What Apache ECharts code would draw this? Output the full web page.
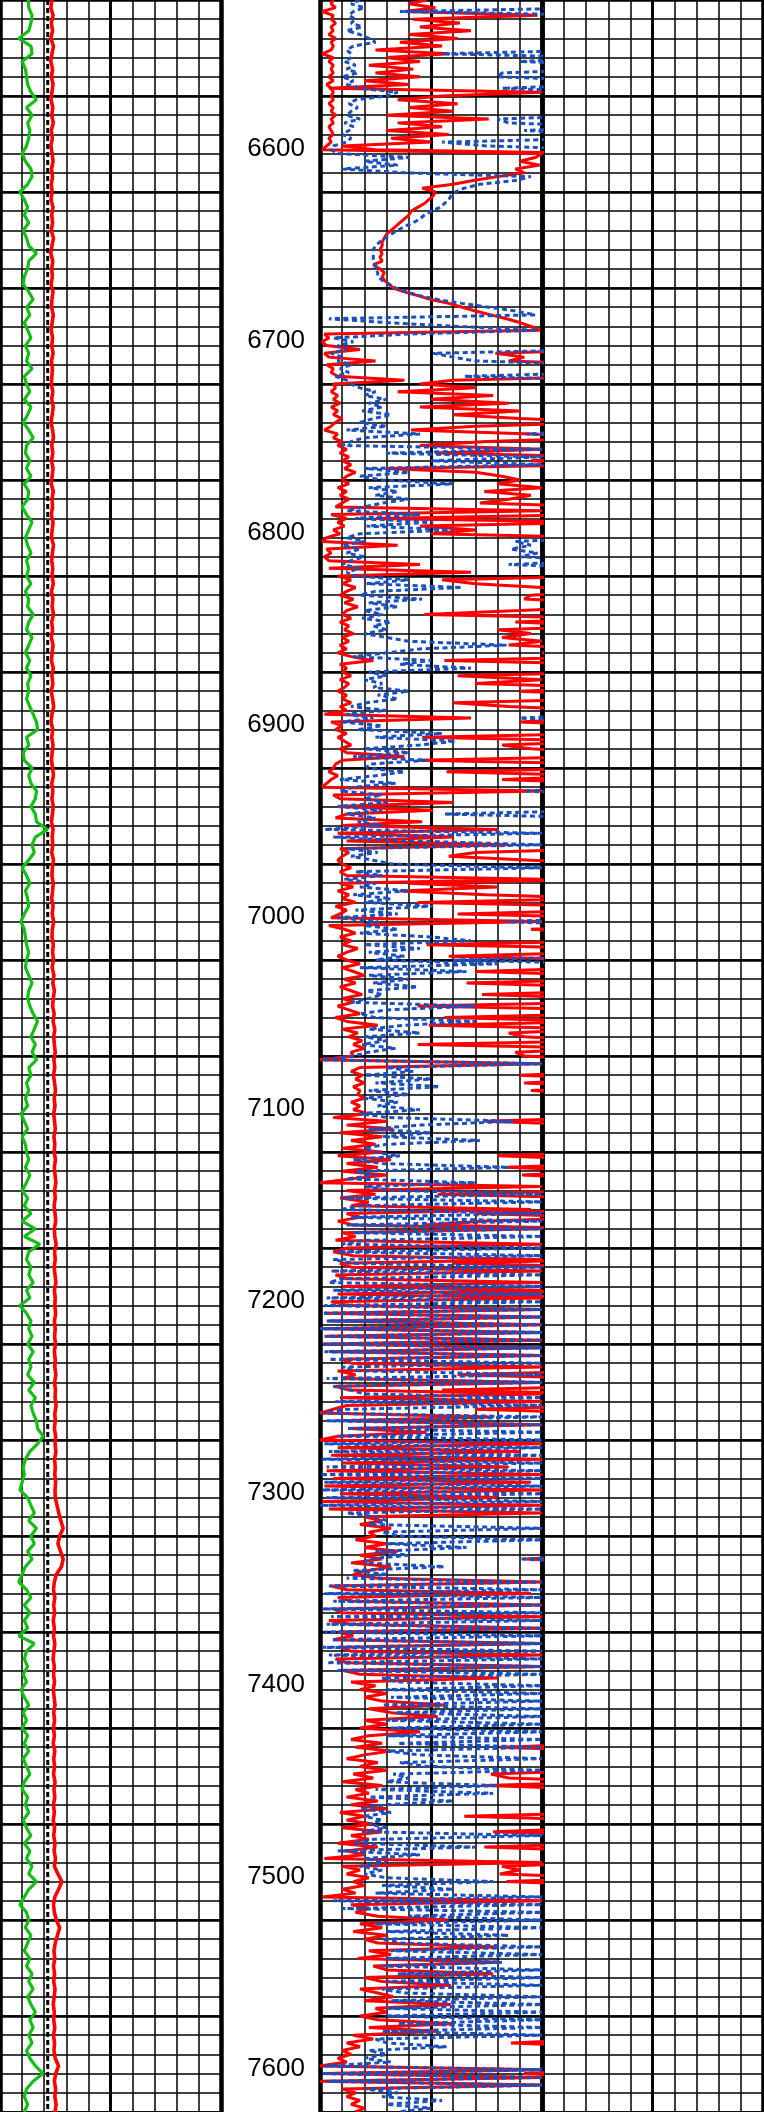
<!DOCTYPE html>
<html><head><meta charset="utf-8">
<script src="https://cdn.jsdelivr.net/npm/echarts@6/dist/echarts.min.js"></script>
<style>html,body{margin:0;padding:0;background:#fff}#c{width:764px;height:2112px}</style>
</head><body><div id="c"></div>
<script>
// ---------------- DATA ----------------
const OFF = 130;               // reading beyond the right edge of the scale (clipped)
const DEPTH_MIN = 6520, DEPTH_MAX = 7620;
const depthLabels = [6600, 6700, 6800, 6900, 7000, 7100, 7200, 7300, 7400, 7500, 7600];
const MID_STEP = 2;            // ft between samples, middle track curves (rows = 50 ft)
const LEFT_STEP = 4;           // ft between samples, left track curves (rows = 100 ft)
const leftCutoff = [21.6, 21.6]; // black dashed reference line (top, bottom)

const midRed1Rows = [
[6,5,7,1,6,5,7,5,6,4,7,5,6,5,1,6,4,6,5,6,4,6,3,5,6],
[5,6,4,6,5,7,5,6,4,5,6,4,5,3,1,100,97,90,99,88,92,80,69,60,46],
[52,51,49,47,44,41,40,38,36,34,32,30,29,28,28,27,28,27,28,24,27,29,28,29,31],
[33,38,44,50,58,64,70,77,84,90,95,99,2,4,1,3,18,2,4,25,3,6,5,8,38],
[6,7,5,8,6,9,5,8,6,10,7,5,2,8,6,10,8,12,9,13,10,14,11,16,12],
[10,13,8,12,9,13,10,7,100,5,12,8,11,6,9,3,1,35,3,5,2,4,45,4,68],
[8,14,10,16,12,9,15,11,17,12,10,14,9,13,11,15,10,13,9,12,8,14,24,9,12],
[10,14,9,13,11,8,12,10,14,9,12,2,68,5,10,7,12,8,11,14,9,12,38,10,7],
[6,4,8,5,3,1,100,6,9,60,8,51,12,7,46,10,80,8,60,12,85,9,13,10,8],
[10,14,9,12,100,9,15,8,13,10,16,7,12,9,5,100,4,11,16,9,14,10,17,12,8],
[12,18,10,15,20,11,16,9,14,19,10,15,8,13,18,7,12,26,10,17,13,19,15,20,14],
[15,0,100,18,14,19,16,20,15,18,17,20,14,18,15,22,6,30,12,33,9,28,14,25,10],
[28,8,32,12,26,10,30,14,0,100,12,25,9,22,14,95,12,18,8,15,100,10,16,7,100],
[12,6,15,100,9,14,100,7,12,100,10,100,8,100,5,14,100,2,100,4,100,1,100,3,100],
[2,100,5,100,10,14,100,8,16,10,100,7,13,100,9,100,12,6,0,78,10,100,14,48,8],
[0,100,8,90,5,100,10,85,3,100,6,95,2,100,9,80,1,100,4,100,20,28,18,32,22],
[25,16,30,20,35,18,28,14,32,22,15,26,100,5,12,95,8,15,100,6,10,100,4,14,100],
[8,15,6,100,9,14,100,7,12,100,10,18,80,14,25,18,30,20,28,56,22,32,53,20,30],
[18,45,22,14,28,16,32,20,12,26,18,30,15,24,10,28,16,22,12,26,14,30,9,20,12],
[24,10,28,14,22,8,26,12,20,2,100,10,18,12,22,15,20,10,16,1,100,14,22,16,26],
[58,18,28,15,30,20,26,80,22,32,17,81,24,30,78,20,28,59,18,26,33,20,59,25,30],
[18,26,60,22,53,15,24,12,18,10,14,8,12,0,100,2,100,0,100,10,16,12,18,14,20],
[16]];

const midRed2Rows = [
[48,40,52,38,98,42,63,45,68,40,62,36,55,25,58,30,45,22,42,25,45,20,40,4,100],
[55,35,62,40,60,30,76,35,55,30,58,32,50,10,25,OFF,OFF,OFF,OFF,OFF,OFF,OFF,OFF,OFF,OFF],
[OFF,OFF,OFF,OFF,OFF,OFF,OFF,OFF,OFF,OFF,OFF,OFF,OFF,OFF,OFF,OFF,OFF,OFF,OFF,OFF,OFF,OFF,OFF,OFF,OFF],
[OFF,OFF,OFF,OFF,OFF,OFF,OFF,OFF,OFF,OFF,OFF,OFF,OFF,OFF,OFF,OFF,OFF,79,92,85,OFF,OFF,OFF,OFF,60],
[45,70,35,78,50,85,45,90,60,90,OFF,70,41,95,OFF,75,45,100,52,OFF,95,OFF,30,70,82],
[90,80,100,74,95,85,72,OFF,OFF,OFF,25,OFF,45,70,50,OFF,OFF,OFF,OFF,OFF,OFF,OFF,OFF,OFF,OFF],
[OFF,55,70,100,OFF,95,92,OFF,OFF,90,47,OFF,88,OFF,80,95,82,100,85,OFF,100,OFF,56,OFF,OFF],
[OFF,62,100,70,OFF,90,OFF,OFF,60,85,OFF,OFF,OFF,90,OFF,OFF,OFF,46,OFF,82,95,OFF,OFF,44,OFF],
[OFF,57,OFF,82,OFF,OFF,OFF,OFF,OFF,OFF,OFF,OFF,OFF,OFF,OFF,OFF,OFF,OFF,OFF,OFF,OFF,OFF,70,58,95],
[OFF,OFF,OFF,OFF,OFF,40,80,36,75,OFF,44,OFF,OFF,62,OFF,OFF,OFF,95,OFF,OFF,OFF,48,OFF,OFF,58],
[OFF,OFF,OFF,70,OFF,OFF,66,OFF,OFF,73,OFF,OFF,44,OFF,OFF,56,OFF,49,OFF,85,92,OFF,44,OFF,88],
[92,OFF,OFF,OFF,OFF,90,OFF,92,OFF,95,OFF,OFF,OFF,OFF,OFF,OFF,OFF,74,OFF,OFF,OFF,OFF,OFF,OFF,OFF],
[OFF,80,OFF,OFF,84,OFF,91,OFF,OFF,OFF,OFF,53,OFF,OFF,OFF,OFF,70,OFF,75,47,OFF,OFF,OFF,OFF,OFF],
[OFF,OFF,OFF,OFF,60,OFF,OFF,OFF,OFF,OFF,OFF,OFF,55,OFF,OFF,OFF,OFF,OFF,OFF,OFF,OFF,OFF,OFF,OFF,OFF],
[OFF,OFF,OFF,OFF,OFF,OFF,OFF,OFF,62,OFF,OFF,OFF,55,OFF,OFF,OFF,OFF,70,OFF,OFF,OFF,OFF,OFF,OFF,OFF],
[OFF,OFF,OFF,OFF,OFF,OFF,OFF,OFF,OFF,OFF,OFF,OFF,OFF,OFF,OFF,OFF,OFF,OFF,OFF,OFF,OFF,OFF,OFF,OFF,OFF],
[OFF,OFF,OFF,OFF,OFF,OFF,93,OFF,OFF,OFF,OFF,OFF,OFF,OFF,OFF,OFF,OFF,OFF,OFF,OFF,OFF,OFF,OFF,OFF,OFF],
[OFF,OFF,OFF,OFF,OFF,OFF,OFF,OFF,OFF,OFF,OFF,OFF,OFF,OFF,OFF,OFF,OFF,OFF,OFF,OFF,OFF,OFF,OFF,OFF,OFF],
[OFF,OFF,OFF,OFF,OFF,81,OFF,OFF,OFF,OFF,OFF,OFF,77,85,OFF,75,OFF,OFF,OFF,OFF,OFF,OFF,OFF,65,OFF],
[OFF,OFF,78,OFF,OFF,OFF,74,OFF,OFF,OFF,OFF,82,90,81,OFF,84,OFF,OFF,OFF,OFF,OFF,OFF,OFF,OFF,OFF],
[OFF,OFF,OFF,OFF,OFF,OFF,OFF,OFF,OFF,OFF,OFF,OFF,OFF,OFF,OFF,OFF,OFF,OFF,OFF,OFF,OFF,OFF,OFF,OFF,OFF],
[OFF,OFF,OFF,OFF,OFF,OFF,OFF,86,OFF,OFF,OFF,OFF,OFF,OFF,OFF,92,OFF,OFF,OFF,OFF,OFF,OFF,OFF,OFF,OFF],
[OFF]];

const midBlue1Rows = [
[18,14,20,15,13,16,14,19,12,18,22,25,15,12,14,14,11,16,12,17,10,15,12,18,35],
[30,16,13,17,14,12,18,11,15,13,10,14,12,6,5,8,40,20,35,10,38,95,88,72,65],
[61,59,58,56,54,50,47,45,42,38,35,32,29,27,25,24,24,24,24,25,25,26,26,28,31],
[34,39,45,53,64,76,88,97,4,30,62,98,40,6,15,8,12,5,10,8,14,9,13,7,12],
[14,18,25,20,30,22,28,19,32,24,18,30,12,45,20,14,10,100,30,100,50,100,20,40,18],
[28,60,22,35,25,40,28,20,12,45,16,51,21,60,18,12,20,10,18,12,20,14,10,18,12],
[16,40,21,64,25,18,46,22,35,20,28,19,32,24,30,20,30,40,84,45,30,15,50,36,68],
[22,30,20,28,24,40,26,35,21,14,30,12,24,10,28,17,55,25,61,45,20,40,15,48,22],
[21,38,25,9,34,15,9,28,20,30,8,28,12,25,17,28,2,100,6,40,100,12,26,14,24],
[32,100,16,28,11,25,18,40,15,32,20,51,16,35,8,26,20,35,18,50,68,20,45,22,38],
[25,80,18,66,22,40,24,44,21,28,22,14,70,30,18,25,70,38,22,45,20,30,19,34,22],
[15,1,100,30,42,20,50,25,54,22,40,20,35,26,45,18,30,87,45,22,50,28,72,30,20],
[24,36,15,28,85,16,25,12,70,20,33,100,10,100,18,9,100,14,100,12,100,15,100,20,10],
[100,8,100,6,15,100,5,100,10,4,100,6,100,3,100,2,100,1,100,3,100,0,100,2,100],
[1,100,2,100,4,100,10,18,100,3,100,6,14,20,100,7,100,12,1,100,3,100,12,100,8],
[100,2,100,4,100,1,100,3,100,0,100,2,100,1,100,3,100,0,100,12,25,30,22,100,28],
[35,100,30,66,25,40,22,20,56,15,30,12,100,4,100,2,100,6,100,1,100,5,100,3,100],
[2,100,5,100,1,100,4,100,3,100,8,100,28,35,100,30,100,32,100,28,100,34,100,30,100],
[32,100,30,100,35,100,30,45,100,36,48,100,33,40,30,80,25,78,22,60,30,18,32,20,28],
[22,30,19,100,24,15,70,8,45,20,30,18,28,20,30,78,28,60,25,100,6,100,10,100,40],
[100,25,100,30,85,28,36,100,32,100,30,82,28,100,35,100,30,100,28,38,100,32,100,30,100],
[30,100,35,100,28,100,25,30,57,22,30,20,32,2,100,1,100,3,100,20,35,28,55,30,50],
[35]];

const midBlue2Rows = [
[OFF,OFF,OFF,36,OFF,OFF,OFF,OFF,OFF,OFF,OFF,OFF,OFF,OFF,55,OFF,90,OFF,OFF,82,80,OFF,OFF,82,OFF],
[OFF,OFF,OFF,OFF,OFF,OFF,80,85,OFF,92,OFF,OFF,55,75,OFF,OFF,OFF,OFF,OFF,OFF,OFF,OFF,OFF,OFF,OFF],
[OFF,OFF,OFF,OFF,OFF,OFF,OFF,OFF,OFF,OFF,OFF,OFF,OFF,OFF,OFF,OFF,OFF,OFF,OFF,OFF,OFF,OFF,OFF,OFF,OFF],
[OFF,OFF,OFF,OFF,OFF,OFF,OFF,OFF,OFF,OFF,OFF,OFF,OFF,OFF,OFF,OFF,OFF,51,60,70,OFF,OFF,OFF,65,OFF],
[OFF,OFF,OFF,OFF,OFF,OFF,OFF,OFF,OFF,OFF,OFF,OFF,OFF,93,OFF,OFF,OFF,OFF,OFF,OFF,OFF,OFF,OFF,OFF,OFF],
[OFF,OFF,OFF,OFF,OFF,OFF,OFF,OFF,OFF,OFF,OFF,OFF,OFF,OFF,OFF,OFF,88,95,86,98,90,OFF,85,OFF,OFF],
[OFF,OFF,OFF,OFF,OFF,OFF,OFF,OFF,OFF,OFF,OFF,OFF,OFF,OFF,OFF,OFF,OFF,OFF,OFF,OFF,OFF,OFF,OFF,OFF,OFF],
[OFF,OFF,OFF,OFF,OFF,OFF,OFF,OFF,OFF,OFF,OFF,OFF,90,OFF,OFF,OFF,OFF,OFF,OFF,OFF,OFF,OFF,OFF,OFF,OFF],
[OFF,OFF,OFF,OFF,OFF,OFF,92,OFF,OFF,OFF,OFF,OFF,56,OFF,OFF,OFF,OFF,OFF,OFF,OFF,OFF,OFF,OFF,OFF,OFF],
[OFF,OFF,OFF,OFF,OFF,OFF,OFF,OFF,OFF,OFF,OFF,OFF,OFF,OFF,OFF,83,OFF,OFF,OFF,OFF,OFF,OFF,OFF,OFF,OFF],
[60,OFF,OFF,OFF,OFF,OFF,OFF,OFF,OFF,OFF,OFF,OFF,OFF,OFF,OFF,OFF,OFF,OFF,OFF,OFF,OFF,OFF,OFF,OFF,OFF],
[OFF,OFF,OFF,OFF,OFF,OFF,OFF,OFF,OFF,OFF,OFF,OFF,OFF,OFF,OFF,OFF,OFF,OFF,OFF,OFF,OFF,OFF,OFF,OFF,OFF],
[OFF,OFF,OFF,OFF,OFF,OFF,OFF,OFF,OFF,OFF,OFF,OFF,OFF,OFF,OFF,OFF,OFF,OFF,OFF,OFF,OFF,OFF,OFF,OFF,OFF],
[OFF,OFF,OFF,OFF,OFF,OFF,OFF,OFF,OFF,OFF,OFF,OFF,OFF,OFF,OFF,OFF,OFF,OFF,OFF,OFF,OFF,OFF,OFF,OFF,OFF],
[OFF,OFF,OFF,OFF,OFF,OFF,OFF,OFF,OFF,OFF,OFF,OFF,OFF,OFF,OFF,OFF,OFF,OFF,OFF,OFF,OFF,OFF,OFF,OFF,OFF],
[OFF,OFF,OFF,OFF,OFF,OFF,OFF,OFF,OFF,OFF,OFF,OFF,OFF,OFF,OFF,OFF,OFF,OFF,OFF,OFF,OFF,OFF,OFF,OFF,OFF],
[OFF,OFF,OFF,OFF,OFF,OFF,90,OFF,OFF,OFF,OFF,OFF,OFF,OFF,OFF,OFF,OFF,OFF,OFF,OFF,OFF,OFF,OFF,OFF,OFF],
[OFF,OFF,OFF,OFF,OFF,OFF,OFF,OFF,OFF,OFF,OFF,OFF,OFF,OFF,OFF,OFF,OFF,OFF,OFF,OFF,OFF,OFF,OFF,OFF,OFF],
[OFF,OFF,OFF,OFF,OFF,OFF,OFF,OFF,OFF,OFF,OFF,OFF,OFF,OFF,OFF,OFF,OFF,OFF,OFF,OFF,OFF,OFF,OFF,OFF,OFF],
[OFF,OFF,OFF,OFF,OFF,OFF,OFF,OFF,OFF,OFF,OFF,OFF,OFF,OFF,OFF,OFF,OFF,OFF,OFF,OFF,OFF,OFF,OFF,OFF,OFF],
[OFF,OFF,OFF,OFF,OFF,OFF,OFF,OFF,OFF,OFF,OFF,OFF,OFF,OFF,OFF,OFF,OFF,OFF,OFF,OFF,OFF,OFF,OFF,OFF,OFF],
[OFF,OFF,OFF,OFF,OFF,OFF,OFF,OFF,OFF,OFF,OFF,OFF,OFF,OFF,OFF,OFF,OFF,OFF,OFF,OFF,OFF,OFF,OFF,OFF,OFF],
[OFF]];

const leftGreenRows = [
[12.8,13,14.5,14,13,8.5,14,14.5,10,11.5,12,12.5,14,16.5,12,14.5,12.5,13.5,13,12,10,11.5,14,14.5,12.5],
[9,11,12.5,11,13,10.5,12,13,16.5,13,12.5,11,10.5,13,15,12,13.5,11,12.5,14,11.5,13,12,14.5,11],
[12,13.5,11,14,12.5,10.5,13,15,12,11.5,13.5,12,14,11,13,12.5,10,12,14.5,13,11.5,12.5,14,12,13],
[12,14,11.5,13,12.5,15,13,12,14.5,13,11.5,13.5,12,14,12.5,13,12,13.5,15,16.5,17,12,13,10.5,11],
[14.5,13,14,16.5,16,14,16,16.5,21.5,16,14.5,15.5,13,10,12,13.5,11.5,12.5,13,11,9.5,11,11.5,12,13],
[12,11.5,13,14.5,13,12.5,13.5,15,17,15.5,14,16,14.5,16.5,13,14,12,13,11.5,12.5,9.5,11,12.5,10,11.5],
[12,13,11.5,13.5,12,10,12.5,11,14,10,16,11,18,13,12,14,13,15,12,13.5,9,12,14,13,14.5],
[12.5,15,13,14,12.5,15.5,13,16,14,15,16.5,17,19.5,17,13.5,11.5,10.5,11,10,9,12.5,14,15.5,13,16.5],
[14,15.5,12.5,14.5,11.5,10,8.5,12,14,11,13.5,11,12.5,8.5,15.5,12,11,12.5,10.5,12,9.5,11,13,10.5,12],
[10,12.5,11,13,10.5,12,13.5,11,10,12.5,11.5,13,10.5,12,14,11,13.5,12,14.5,13,16.5,13,11,9,12],
[13,11.5,14,12.5,11,13.5,12,14.5,13,15,12.5,14,16,13.5,15,13,14.5,12,13.5,16,19.5,15,12,11,12.5],
[11]];

const leftRedRows = [
[23.5,23,24,23.2,23.8,23,24.2,23.5,23,23.8,23.3,24,23.5,23.1,23.9,23.4,24.1,23.2,23.7,23,23.6,24,23.3,23.8,23.2],
[23.6,23.1,24,23.4,23.8,23.2,24.2,23.5,23,23.9,23.4,23.7,23.1,24,23.5,23.3,24.1,23.6,23.2,23.8,23.4,24,23.3,23.7,23.5],
[23.2,23.9,23.4,24.1,23.6,23.1,23.8,24.2,23.4,23.9,23.3,24,23.6,23.2,24.1,23.5,23.8,23.2,24,23.6,23.3,24.2,23.7,23.4,23.9],
[23.5,24.1,23.3,23.9,23.6,24.2,23.4,23.8,23.2,24,23.6,23.3,24.1,23.5,23.9,23.2,23.8,24.3,23.5,23.1,23.9,23.4,24,23.6,23.3],
[23.8,24.2,23.4,23.9,23.5,24.1,23.7,23.3,24,23.6,23.9,23.4,24.2,23.7,23.5,24.1,23.8,23.4,24,23.6,24.3,23.7,23.5,24.1,23.8],
[24.2,23.6,24.4,23.9,24.6,24.1,23.8,24.5,24,24.8,24.3,24.6,25,24.4,24.8,24.2,24.7,25.1,24.5,24.9,24.3,24.7,25,24.4,24.8],
[24.5,25.1,24.6,24.9,25.3,24.7,25,24.5,24.9,25.2,24.6,24.8,25.4,24.7,25,24.5,24.9,25.3,24.6,25,24.8,25.2,24.6,25,24.7],
[25.1,24.6,25,24.8,25.3,24.7,25.1,24.9,25.4,24.8,25,24.6,25.2,24.9,25.3,24.7,25,24.8,25.2,24.9,25,25.8,26.6,27.5,28.6],
[27,26.2,27.4,28.6,27.8,25.5,24.6,24.2,24.8,24.3,24.7,24.1,24.6,24.2,24.8,24.4,24,24.6,24.2,24.7,24.1,24.5,24.9,24.3,24.7],
[24.2,24.6,24.1,24.8,24.3,24.7,24.2,24.9,24.4,24.8,24.2,24.6,24.1,24.7,24.3,24.9,24.5,25.1,24.6,26.2,28,26.5,24.8,24.2,24.6],
[25.5,27,26,25,24.4,24.8,24.2,24.7,24.3,24.9,24.5,24.1,24.6,24.3,24.8,24.2,24.7,24.4,25,26.5,25.2,24.6,25.2,24.8,25.4],
[24.9]];

// ---------------- BUILD ----------------
function flatRows(name, rows, count) {
  rows.slice(0, -1).forEach((r, i) => {
    if (r.length !== 25) throw new Error(name + ' row ' + i + ' has ' + r.length + ' values');
  });
  const v = rows.flat();
  if (v.length !== count) throw new Error(name + ' total ' + v.length);
  return v;
}
const nMid = (DEPTH_MAX - DEPTH_MIN) / MID_STEP + 1;
const nLeft = (DEPTH_MAX - DEPTH_MIN) / LEFT_STEP + 1;
const midRed1 = flatRows('midRed1', midRed1Rows, nMid);
const midRed2 = flatRows('midRed2', midRed2Rows, nMid);
const midBlue1 = flatRows('midBlue1', midBlue1Rows, nMid);
const midBlue2 = flatRows('midBlue2', midBlue2Rows, nMid);
const leftGreen = flatRows('leftGreen', leftGreenRows, nLeft);
const leftRed = flatRows('leftRed', leftRedRows, nLeft);

const pts = (vals, step) => vals.map((v, i) => [v, DEPTH_MIN + i * step]);

const TOP = -1, H = 2113;
const grids = [
  { left: 0, top: TOP, width: 221, height: H },
  { left: 320, top: TOP, width: 222, height: H },
  { left: 542, top: TOP, width: 221, height: H }
];
const xAxes = [], yAxes = [];
grids.forEach((g, i) => {
  const base = { gridIndex: i, type: 'value', min: 0, max: 100, axisTick: { show: false }, axisLabel: { show: false }, axisLine: { show: false } };
  xAxes.push(Object.assign({}, base, { interval: 10, position: 'bottom', splitLine: { show: true, lineStyle: { color: '#000', width: 1.5 } } }));
  xAxes.push(Object.assign({}, base, { interval: 50, position: 'top', splitLine: { show: true, lineStyle: { color: '#000', width: 3 } } }));
  yAxes.push({
    gridIndex: i, type: 'value', inverse: true, min: DEPTH_MIN, max: DEPTH_MAX, interval: 10, position: 'left',
    axisTick: { show: false },
    axisLine: { show: true, onZero: false, lineStyle: { color: '#000', width: 4.5 } },
    splitLine: { show: true, lineStyle: { color: '#000', width: 1.5 } },
    axisLabel: i === 1 ? {
      show: true, margin: 15, fontSize: 26, color: '#000', fontFamily: 'Liberation Sans, Arial, sans-serif',
      verticalAlign: 'bottom', lineHeight: 10,
      formatter: v => depthLabels.includes(v) ? String(v) : ''
    } : { show: false }
  });
  yAxes.push({
    gridIndex: i, type: 'value', inverse: true, min: DEPTH_MIN, max: DEPTH_MAX, interval: 50, position: 'right',
    axisTick: { show: false }, axisLabel: { show: false },
    axisLine: { show: true, onZero: false, lineStyle: { color: '#000', width: 4.5 } },
    splitLine: { show: true, lineStyle: { color: '#000', width: 2.6 } }
  });
});

const lineSeries = (name, data, gi, color, width, type) => ({
  name, type: 'line', xAxisIndex: gi * 2, yAxisIndex: gi * 2, data,
  symbol: 'none', clip: true, silent: true, animation: false,
  lineStyle: { color, width, type: type || 'solid' }, z: 3
});

const series = [
  lineSeries('cutoff', [[leftCutoff[0], DEPTH_MIN], [leftCutoff[1], DEPTH_MAX]], 0, '#000', 3, [5, 3]),
  lineSeries('leftGreen', pts(leftGreen, LEFT_STEP), 0, '#12bf12', 3.2),
  lineSeries('leftRed', pts(leftRed, LEFT_STEP), 0, '#ff0000', 3.6),
  lineSeries('midRed2', pts(midRed2, MID_STEP), 1, '#ff0000', 3),
  lineSeries('midRed1', pts(midRed1, MID_STEP), 1, '#ff0000', 3),
  lineSeries('midBlue2', pts(midBlue2, MID_STEP), 1, '#1a4fc0', 3, [5, 3.5]),
  lineSeries('midBlue1', pts(midBlue1, MID_STEP), 1, '#1a4fc0', 3, [5, 3.5])
];

const chart = echarts.init(document.getElementById('c'), null, { renderer: 'canvas', width: 764, height: 2112 });
chart.setOption({
  animation: false,
  backgroundColor: '#fff',
  grid: grids,
  xAxis: xAxes,
  yAxis: yAxes,
  series
});
</script>
</body></html>
